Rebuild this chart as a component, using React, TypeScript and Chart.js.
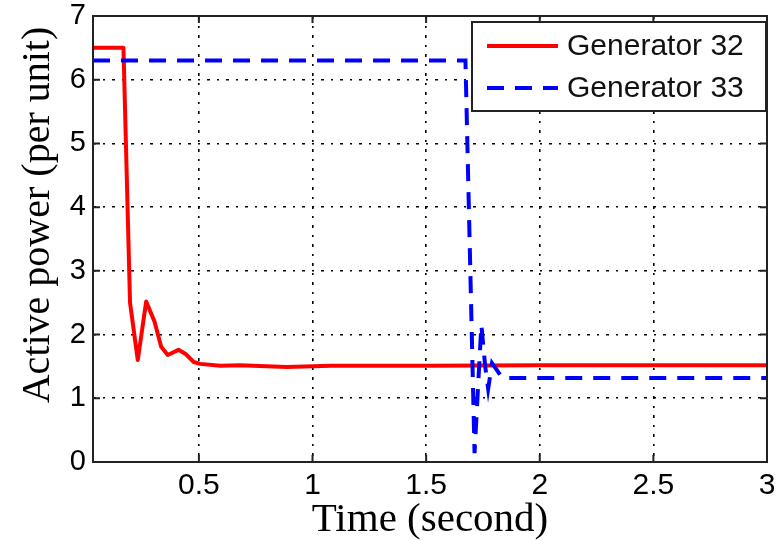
import { useEffect, useRef } from "react";
import { Chart, registerables } from "chart.js";

Chart.register(...registerables);

// ---- data ----
const SERIES_NAMES = ["Generator 32", "Generator 33"];
const T_GEN32 = [0.034, 0.168, 0.197, 0.231, 0.268, 0.305, 0.334, 0.363, 0.41, 0.44, 0.477, 0.506, 0.594, 0.68, 0.886, 1.08, 1.5, 2.0, 2.5, 3.0];
const P_GEN32 = [6.5, 6.5, 2.5, 1.6, 2.52, 2.2, 1.81, 1.68, 1.76, 1.7, 1.57, 1.54, 1.51, 1.52, 1.49, 1.51, 1.51, 1.52, 1.52, 1.52];
const T_GEN33 = [0.034, 1.673, 1.713, 1.743, 1.76, 1.773, 1.79, 1.81, 1.835, 2.0, 2.5, 3.0];
const P_GEN33 = [6.3, 6.3, 0.14, 2.15, 1.5, 1.15, 1.55, 1.45, 1.32, 1.32, 1.32, 1.32];
const X_TICKS = [0.5, 1, 1.5, 2, 2.5, 3];
const Y_TICKS = [0, 1, 2, 3, 4, 5, 6, 7];
const X_MIN = 0.034;
const X_MAX = 3;
const Y_MIN = 0;
const Y_MAX = 7;
const X_TITLE = "Time (second)";
const Y_TITLE = "Active power (per unit)";

const SANS = '"Liberation Sans", Arial, sans-serif';
const SERIF = '"Liberation Serif", "Times New Roman", serif';

const framePlugin = {
  id: "frame",
  afterDraw(chart: any) {
    const { ctx, chartArea } = chart;
    const { left, right, top, bottom } = chartArea;
    const xs = chart.scales.x;
    const ys = chart.scales.y;
    ctx.save();
    // inner tick marks
    ctx.strokeStyle = "#222";
    ctx.lineWidth = 2;
    const tl = 7;
    ctx.beginPath();
    X_TICKS.forEach((v) => {
      const px = xs.getPixelForValue(v);
      ctx.moveTo(px, bottom);
      ctx.lineTo(px, bottom - tl);
      ctx.moveTo(px, top);
      ctx.lineTo(px, top + tl);
    });
    Y_TICKS.forEach((v) => {
      const py = ys.getPixelForValue(v);
      ctx.moveTo(left, py);
      ctx.lineTo(left + tl, py);
      ctx.moveTo(right, py);
      ctx.lineTo(right - tl, py);
    });
    ctx.stroke();
    // box
    ctx.strokeRect(left, top, right - left, bottom - top);

    // legend
    const lw = 294;
    const lh = 89;
    const lx = right - 1 - lw;
    const ly = top + 6;
    ctx.fillStyle = "#fff";
    ctx.fillRect(lx, ly, lw, lh);
    ctx.strokeStyle = "#222";
    ctx.lineWidth = 2;
    ctx.strokeRect(lx, ly, lw, lh);
    const rows = [ly + 24, ly + 66];
    chart.data.datasets.forEach((ds: any, i: number) => {
      const y = rows[i];
      ctx.beginPath();
      ctx.strokeStyle = ds.borderColor;
      ctx.lineWidth = 4;
      ctx.setLineDash(ds.borderDash || []);
      ctx.moveTo(lx + 15, y);
      ctx.lineTo(lx + 86, y);
      ctx.stroke();
      ctx.setLineDash([]);
      ctx.fillStyle = "#111";
      ctx.font = `30px ${SANS}`;
      ctx.textAlign = "left";
      ctx.textBaseline = "middle";
      ctx.fillText(ds.label, lx + 95, y + 1);
    });

    // y title
    ctx.translate(49, 215);
    ctx.rotate(-Math.PI / 2);
    ctx.fillStyle = "#000";
    ctx.font = `40px ${SERIF}`;
    ctx.textAlign = "center";
    ctx.textBaseline = "alphabetic";
    ctx.fillText(Y_TITLE, 0, 0);
    ctx.restore();
  },
};

export default function App() {
  const ref = useRef<HTMLCanvasElement | null>(null);
  useEffect(() => {
    if (!ref.current) return;
    const chart = new Chart(ref.current, {
      type: "line",
      data: {
        datasets: [
          {
            label: SERIES_NAMES[0],
            data: T_GEN32.map((t, i) => ({ x: t, y: P_GEN32[i] })),
            borderColor: "#ff0000",
            borderWidth: 4,
            pointRadius: 0,
            fill: false,
            tension: 0,
            borderJoinStyle: "round",
            order: 2,
          },
          {
            label: SERIES_NAMES[1],
            data: T_GEN33.map((t, i) => ({ x: t, y: P_GEN33[i] })),
            borderColor: "#0000ff",
            borderWidth: 4,
            borderDash: [17, 11],
            pointRadius: 0,
            fill: false,
            tension: 0,
            order: 1,
          },
        ],
      },
      options: {
        animation: false,
        responsive: false,
        devicePixelRatio: 1,
        layout: { padding: { top: 16, right: 12, left: 0, bottom: 0 } },
        plugins: { legend: { display: false }, tooltip: { enabled: false } },
        scales: {
          x: {
            type: "linear",
            min: X_MIN,
            max: X_MAX,
            afterBuildTicks: (s: any) => {
              s.ticks = X_TICKS.map((v) => ({ value: v }));
            },
            afterFit: (s: any) => {
              s.height = 79;
              s.paddingLeft = 0;
              s.paddingRight = 0;
            },
            ticks: {
              color: "#000",
              font: { family: SANS, size: 30 },
              padding: 6,
              maxRotation: 0,
              autoSkip: false,
              callback: (v: any) => String(v),
            },
            grid: { color: "#000", lineWidth: 1.6, drawTicks: false },
            border: { display: false, dash: [3, 7, 2, 7] },
            title: {
              display: true,
              text: X_TITLE,
              color: "#000",
              font: { family: SERIF, size: 41, lineHeight: 1.0 },
              padding: { top: 0, bottom: 0 },
            },
          },
          y: {
            type: "linear",
            min: Y_MIN,
            max: Y_MAX,
            afterBuildTicks: (s: any) => {
              s.ticks = Y_TICKS.map((v) => ({ value: v }));
            },
            afterFit: (s: any) => {
              s.width = 93;
              s.paddingTop = 0;
              s.paddingBottom = 0;
            },
            ticks: {
              color: "#000",
              font: { family: SANS, size: 29 },
              padding: 7,
              callback: (v: any) => String(v),
            },
            grid: { color: "#000", lineWidth: 1.6, drawTicks: false },
            border: { display: false, dash: [3, 7, 2, 7] },
          },
        },
      },
      plugins: [framePlugin],
    });
    return () => chart.destroy();
  }, []);
  return (
    <div style={{ position: "absolute", left: 0, top: 0, width: 779, height: 541, background: "#fff" }}>
      <canvas ref={ref} width={779} height={541} style={{ display: "block" }} />
    </div>
  );
}
